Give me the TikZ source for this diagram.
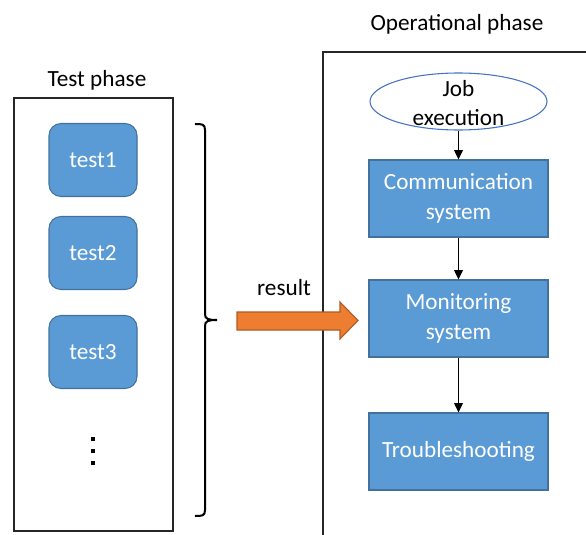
\documentclass[tikz,border=0pt]{standalone}
\usepackage{fontspec}
\setmainfont{Carlito}
\usetikzlibrary{shapes.geometric,arrows.meta}
\definecolor{bluefill}{HTML}{5B9BD5}
\definecolor{blueline}{HTML}{41719C}
\definecolor{ellline}{HTML}{4472C4}
\definecolor{orangefill}{HTML}{ED7D31}
\definecolor{orangeline}{HTML}{AE5A21}
\begin{document}
\begin{tikzpicture}[x=0.75pt,y=-0.75pt,
  lbl/.style={font=\fontsize{17.4}{22}\selectfont, align=center},
  testbox/.style={lbl, rounded corners=9pt, fill=bluefill, draw=blueline, text=white, minimum width=66pt, minimum height=54.75pt, inner sep=0pt, line width=0.8pt},
  sysbox/.style={lbl, fill=bluefill, draw=blueline, text=white, minimum width=134.25pt, minimum height=57.75pt, inner sep=0pt, line width=0.8pt},
  flow/.style={-{Triangle[length=7pt,width=6.5pt]}, line width=1.1pt},
  frame/.style={line width=1pt, draw=black!85}]
\useasboundingbox (0,0) rectangle (586,535);
% left frame
\draw[frame] (14,98) rectangle (173,531);
\node[lbl] (tp) at (97,80) {Test phase};
\node[testbox] (t1) at (93,160) {test1};
\node[testbox] (t2) at (93,253) {test2};
\node[testbox] (t3) at (93,352) {test3};
\foreach \yy in {439,451,463} \fill (91,\yy-2) rectangle (95,\yy+2);
% brace
\draw[line width=1.5pt] (195,124) .. controls (202,124) and (205,124) .. (205,130)
  -- (205,314) .. controls (205,319) and (208,320) .. (217,320)
  .. controls (208,320) and (205,321) .. (205,326)
  -- (205,510) .. controls (205,516) and (202,516) .. (195,516);
% right frame
\draw[frame] (586,52) -- (323,52) -- (323,535);
\node[lbl] (op) at (457,24) {Operational phase};
\node[lbl, ellipse, draw=ellline, fill=white, line width=0.8pt, minimum width=132.75pt, minimum height=42.75pt, inner sep=0pt] (job) at (458.5,101.5) {};
\node[lbl] (jobtxt) at (458.5,103) {Job\\execution};
\node[sysbox] (comm) at (458.5,198.5) {Communication\\system};
\node[sysbox] (mon) at (458.5,318.5) {Monitoring\\system};
\node[sysbox] (trb) at (458.5,451.5) {Troubleshooting};
\draw[flow] (job) -- (comm);
\draw[flow] (comm) -- (mon);
\draw[flow] (mon) -- (trb);
% result arrow
\draw[fill=orangefill, draw=orangeline, line width=0.8pt]
  (237,312) -- (340,312) -- (340,302) -- (358,320.5) -- (340,339) -- (340,330) -- (237,330) -- cycle;
\node[lbl] (res) at (284,288) {result};
\end{tikzpicture}
\end{document}
